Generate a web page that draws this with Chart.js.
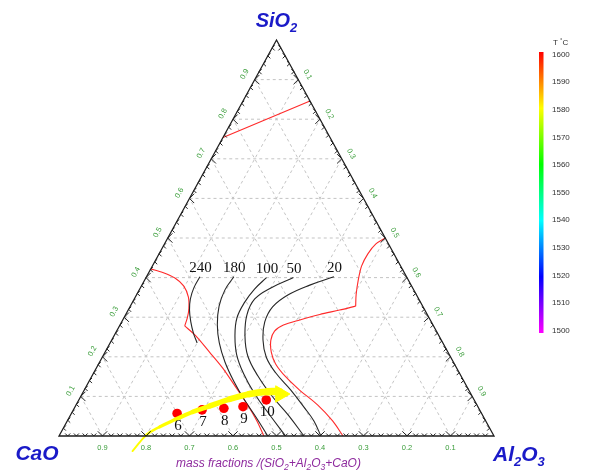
<!DOCTYPE html>
<html>
<head>
<meta charset="utf-8">
<script src="https://cdn.jsdelivr.net/npm/chart.js@4.4.1/dist/chart.umd.min.js"></script>
<style>
  html, body { margin: 0; padding: 0; background: #fff; }
  #wrap { width: 590px; height: 471px; }
</style>
</head>
<body>
<div id="wrap"><canvas id="c" width="590" height="471"></canvas></div>
<script>
// Compositions are [SiO2, Al2O3] mass fractions; CaO = 1 - SiO2 - Al2O3.
const fractionTicks = [0.1, 0.2, 0.3, 0.4, 0.5, 0.6, 0.7, 0.8, 0.9];
const fractionLabels = ['0.1', '0.2', '0.3', '0.4', '0.5', '0.6', '0.7', '0.8', '0.9'];

// colour scale (temperature, °C)
const tempTicks = [1600, 1590, 1580, 1570, 1560, 1550, 1540, 1530, 1520, 1510, 1500];
const tempMin = 1500, tempMax = 1600;

// liquidus boundaries
const liqTop = [[0.754, 0], [0.846, 0.154]];
const liqLeftUpper = [[0.422, 0], [0.413, 0.032], [0.399, 0.067], [0.379, 0.097], [0.351, 0.122], [0.321, 0.138], [0.298, 0.146], [0.278, 0.150]];
const liqLeftLower = [[0.278, 0.150], [0.253, 0.188], [0.212, 0.240], [0.172, 0.290], [0.124, 0.344], [0.078, 0.395], [0.038, 0.436], [0, 0.471]];
const liqRightUpper = [[0.5, 0.5], [0.485, 0.486], [0.460, 0.480], [0.429, 0.481], [0.394, 0.491], [0.356, 0.505], [0.328, 0.518]];
const liqRightLower = [[0.328, 0.518], [0.318, 0.486], [0.307, 0.446], [0.293, 0.407], [0.280, 0.376], [0.265, 0.363], [0.242, 0.366], [0.212, 0.382], [0.182, 0.407], [0.149, 0.447], [0.116, 0.495], [0.078, 0.556], [0.038, 0.610], [0, 0.653]];

// labelled contour lines
const isoLabels = ['240', '180', '100', '50', '20'];
const iso240 = [[0.402, 0.123], [0.374, 0.123], [0.346, 0.129], [0.318, 0.141], [0.288, 0.159], [0.260, 0.179], [0.235, 0.200]];
const iso180 = [[0.402, 0.201], [0.369, 0.197], [0.328, 0.204], [0.280, 0.224], [0.235, 0.251], [0.187, 0.288], [0.139, 0.332], [0.091, 0.381], [0.045, 0.432], [0, 0.480]];
const iso100 = [[0.400, 0.277], [0.371, 0.264], [0.338, 0.258], [0.298, 0.260], [0.253, 0.278], [0.205, 0.306], [0.157, 0.346], [0.106, 0.397], [0.053, 0.458], [0, 0.521]];
const iso50 = [[0.400, 0.339], [0.374, 0.300], [0.346, 0.277], [0.306, 0.279], [0.253, 0.301], [0.202, 0.333], [0.152, 0.381], [0.101, 0.439], [0.051, 0.503], [0, 0.563]];
const iso20 = [[0.402, 0.431], [0.381, 0.386], [0.356, 0.348], [0.326, 0.328], [0.288, 0.329], [0.242, 0.348], [0.199, 0.377], [0.159, 0.419], [0.116, 0.475], [0.071, 0.529], [0.038, 0.567], [0, 0.602]];
const isoLines = [iso240, iso180, iso100, iso50, iso20];

// slag samples
const sampleLabels = ['6', '7', '8', '9', '10'];
const samples = [[0.057, 0.243], [0.066, 0.296], [0.070, 0.344], [0.074, 0.386], [0.091, 0.431]];

// composition path (arrow)
const arrowPath = [[-0.038, 0.188], [0.003, 0.200], [0.023, 0.220], [0.042, 0.247], [0.061, 0.277], [0.076, 0.309], [0.093, 0.346], [0.106, 0.385], [0.112, 0.424], [0.112, 0.451]];
const arrowTip = [0.106, 0.456];

// ternary -> cartesian (x across the base, y = SiO2 height)
const toXY = ([s, a]) => ({ x: a + s / 2, y: s });

const datasets = [];
datasets.push({
  data: [toXY(arrowTip)], showLine: false, pointStyle: 'triangle', pointRotation: 90,
  pointRadius: 9.5, backgroundColor: '#ffff00', borderColor: '#ffff00', borderWidth: 1
});
datasets.push({
  data: arrowPath.map(toXY), showLine: true, pointRadius: 0, borderColor: '#ffff00',
  borderWidth: 7, tension: 0.4, clip: false, borderCapStyle: 'round',
  segment: { borderWidth: c => 1.2 + 6.3 * (c.p1DataIndex / (arrowPath.length - 1)) }
});
datasets.push({
  data: samples.map(toXY), showLine: false, pointRadius: 4.8,
  backgroundColor: '#ff0000', borderColor: '#ff0000', borderWidth: 0
});
isoLines.forEach(line => datasets.push({
  data: line.map(toXY), showLine: true, pointRadius: 0, borderColor: '#262626',
  borderWidth: 1.1, tension: 0.4
}));
[liqTop, liqLeftUpper, liqLeftLower, liqRightUpper, liqRightLower].forEach(line => datasets.push({
  data: line.map(toXY), showLine: true, pointRadius: 0, borderColor: '#ff2a2a',
  borderWidth: 1.1, tension: 0.3
}));

// draws a run of text pieces; sub pieces are smaller and lowered, sup pieces raised
function drawRich(ctx, parts, x, y, base, align) {
  let w = 0;
  parts.forEach(p => {
    ctx.font = base.style + ' ' + (p.sub || p.sup ? base.small : base.size) + 'px ' + base.family;
    p.w = ctx.measureText(p.t).width;
    w += p.w;
  });
  let cx = align === 'center' ? x - w / 2 : x;
  ctx.textAlign = 'left';
  ctx.textBaseline = 'alphabetic';
  parts.forEach(p => {
    ctx.font = base.style + ' ' + (p.sub || p.sup ? base.small : base.size) + 'px ' + base.family;
    const dy = p.sub ? base.subDy : (p.sup ? -base.supDy : 0);
    ctx.fillText(p.t, cx, y + dy);
    cx += p.w;
  });
}

const ternaryFrame = {
  id: 'ternaryFrame',
  beforeDatasetsDraw(chart) {
    const { ctx, scales: { x, y } } = chart;
    const P = (s, a) => [x.getPixelForValue(a + s / 2), y.getPixelForValue(s)];
    ctx.save();
    ctx.strokeStyle = '#c4c4c4';
    ctx.lineWidth = 1;
    ctx.setLineDash([3, 3]);
    fractionTicks.forEach(f => {
      [[P(f, 0), P(f, 1 - f)], [P(0, f), P(1 - f, f)], [P(0, 1 - f), P(1 - f, 0)]].forEach(([p, q]) => {
        ctx.beginPath(); ctx.moveTo(p[0], p[1]); ctx.lineTo(q[0], q[1]); ctx.stroke();
      });
    });
    ctx.restore();
  },
  afterDatasetsDraw(chart) {
    const { ctx, scales: { x, y } } = chart;
    const P = (s, a) => [x.getPixelForValue(a + s / 2), y.getPixelForValue(s)];
    const cao = P(0, 0), alu = P(0, 1), sil = P(1, 0);
    ctx.save();

    // triangle frame
    ctx.strokeStyle = '#1e1e1e';
    ctx.lineWidth = 1.3;
    ctx.beginPath();
    ctx.moveTo(cao[0], cao[1]); ctx.lineTo(alu[0], alu[1]); ctx.lineTo(sil[0], sil[1]); ctx.closePath();
    ctx.stroke();

    // chevron ticks every 0.02
    ctx.lineWidth = 1;
    ctx.strokeStyle = '#222';
    const chevron = (p, dx, dy, len) => {
      // apex at p, arms opening opposite to (dx, dy)
      const k = len * 0.72;
      ctx.beginPath();
      ctx.moveTo(p[0] - dx * k + dy * k, p[1] - dy * k + dx * k);
      ctx.lineTo(p[0], p[1]);
      ctx.lineTo(p[0] - dx * k - dy * k, p[1] - dy * k - dx * k);
      ctx.stroke();
    };
    for (let k = 1; k < 50; k++) {
      const f = k / 50;
      const len = k % 5 === 0 ? 6.5 : 3.5;
      chevron(P(0, f), 0, 1, len);
      chevron(P(f, 0), -1, 0, len);
      chevron(P(f, 1 - f), 1, 0, len);
    }

    // fraction labels
    const lAng = Math.atan2(sil[1] - cao[1], sil[0] - cao[0]);
    const rAng = Math.atan2(alu[1] - sil[1], alu[0] - sil[0]);
    ctx.fillStyle = '#3a9d3a';
    ctx.font = '7.5px "Liberation Sans", Arial, sans-serif';
    ctx.textAlign = 'center';
    ctx.textBaseline = 'middle';
    fractionTicks.forEach((f, i) => {
      const lab = fractionLabels[i];
      let p = P(f, 0);
      ctx.save();
      ctx.translate(p[0] + Math.sin(lAng) * 11.5, p[1] - Math.cos(lAng) * 11.5);
      ctx.rotate(lAng);
      ctx.fillText(lab, 0, 0);
      ctx.restore();
      p = P(1 - f, f);
      ctx.save();
      ctx.translate(p[0] + Math.sin(rAng) * 10.5, p[1] - Math.cos(rAng) * 10.5);
      ctx.rotate(rAng);
      ctx.fillText(lab, 0, 0);
      ctx.restore();
      p = P(0, 1 - f);
      ctx.fillText(lab, p[0], p[1] + 11.5);
    });

    // contour values
    ctx.fillStyle = '#111';
    ctx.font = '15px "Liberation Serif", "Times New Roman", serif';
    isoLines.forEach((line, i) => {
      const p = P(line[0][0], line[0][1]);
      ctx.fillText(isoLabels[i], p[0] + 0.5, p[1] - 9);
    });
    // sample numbers
    samples.forEach((s, i) => {
      const p = P(s[0], s[1]);
      ctx.fillText(sampleLabels[i], p[0] + 1, p[1] + 12.5);
    });

    // vertex names
    const head = { style: 'italic bold', size: 20, small: 13, family: '"Liberation Sans", Arial, sans-serif', subDy: 5, supDy: 6 };
    ctx.fillStyle = '#1a1ac8';
    drawRich(ctx, [{ t: 'SiO' }, { t: '2', sub: true }], sil[0], sil[1] - 13, head, 'center');
    drawRich(ctx, [{ t: 'CaO' }], cao[0] - 22, cao[1] + 24, { ...head, size: 21 }, 'center');
    drawRich(ctx, [{ t: 'Al' }, { t: '2', sub: true }, { t: 'O' }, { t: '3', sub: true }], alu[0] - 1, alu[1] + 25, { ...head, size: 21 }, 'left');

    // axis caption
    ctx.fillStyle = '#8e2a9e';
    const cap = { style: 'italic', size: 12, small: 8.5, family: '"Liberation Sans", Arial, sans-serif', subDy: 3, supDy: 4 };
    drawRich(ctx, [{ t: 'mass fractions /(SiO' }, { t: '2', sub: true }, { t: '+Al' }, { t: '2', sub: true },
      { t: 'O' }, { t: '3', sub: true }, { t: '+CaO)' }], cao[0] + 117, cao[1] + 31, cap, 'left');

    // temperature colour bar
    const barTop = 52, barBot = 333, barX = 539, barW = 4.5;
    const tY = v => barTop + 2.5 + (tempMax - v) / (tempMax - tempMin) * (barBot - barTop - 5);
    const grad = ctx.createLinearGradient(0, barTop, 0, barBot);
    for (let i = 0; i <= 10; i++) grad.addColorStop(i / 10, 'hsl(' + (i * 30) + ',100%,50%)');
    ctx.fillStyle = grad;
    ctx.fillRect(barX, barTop, barW, barBot - barTop);
    ctx.fillStyle = '#333';
    ctx.font = '8px "Liberation Sans", Arial, sans-serif';
    ctx.textAlign = 'left';
    ctx.textBaseline = 'middle';
    tempTicks.forEach(v => ctx.fillText(String(v), 552, tY(v)));
    const unit = { style: '', size: 8, small: 6, family: '"Liberation Sans", Arial, sans-serif', subDy: 2, supDy: 3 };
    drawRich(ctx, [{ t: 'T ' }, { t: '°', sup: true }, { t: 'C' }], 553, 45, unit, 'left');

    ctx.restore();
  }
};

new Chart(document.getElementById('c'), {
  type: 'scatter',
  data: { datasets },
  options: {
    responsive: false,
    animation: false,
    events: [],
    layout: { padding: { left: 59, right: 96, top: 40, bottom: 35 } },
    scales: {
      x: { type: 'linear', min: 0, max: 1, display: false },
      y: { type: 'linear', min: 0, max: 1, display: false }
    },
    plugins: { legend: { display: false }, tooltip: { enabled: false }, title: { display: false } }
  },
  plugins: [ternaryFrame]
});
</script>
</body>
</html>
